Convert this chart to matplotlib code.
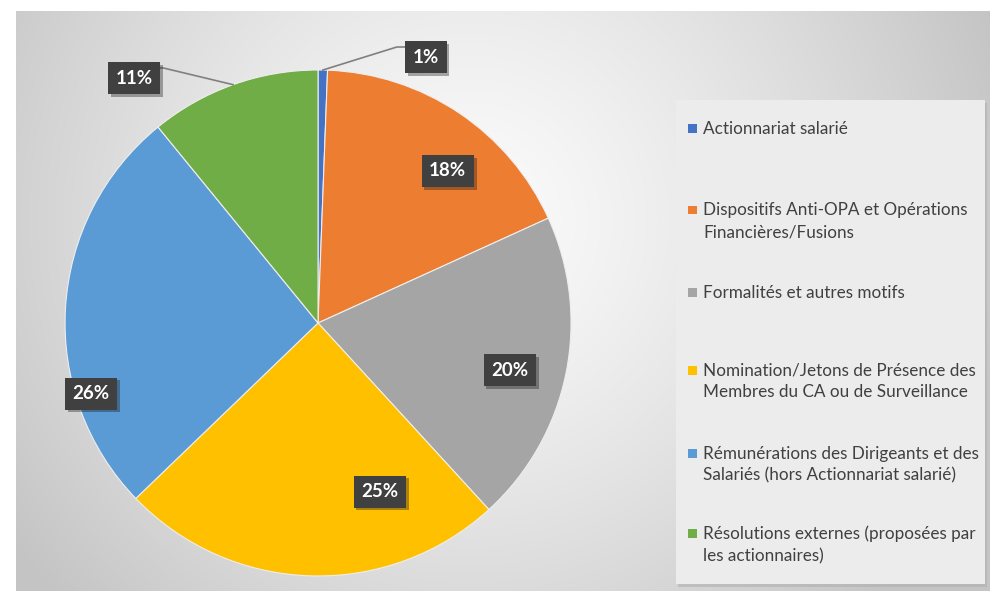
import numpy as np
import matplotlib.pyplot as plt
import matplotlib.patheffects as pe
from matplotlib.patches import Rectangle

# Data
categories = [
    'Actionnariat salarié',
    'Dispositifs Anti-OPA et Opérations\nFinancières/Fusions',
    'Formalités et autres motifs',
    'Nomination/Jetons de Présence des\nMembres du CA ou de Surveillance',
    'Rémunérations des Dirigeants et des\nSalariés (hors Actionnariat salarié)',
    'Résolutions externes (proposées par\nles actionnaires)',
]
shares = [0.6, 17.6, 20.0, 24.6, 26.3, 10.9]
colors = ['#4472C4', '#ED7D31', '#A5A5A5', '#FFC000', '#5B9BD5', '#70AD47']

# label placement: (radius, angle offset from wedge middle in degrees)
label_r = [1.134, 0.79, 0.78, 0.71, 0.94, 1.211]
label_dang = [-21.0, -6.6, -2.3, 21.9, 20.7, 17.3]
# legend rows: pixel y of the first text line of each entry
legend_rows = [128, 210, 292, 370, 453, 533]

plt.rcParams['font.family'] = ['Lato', 'DejaVu Sans']

W, H = 990, 591
fig = plt.figure(figsize=(W / 100, H / 100), dpi=100)
fig.patch.set_facecolor('white')

# radial gray gradient background
bg = fig.add_axes([16 / W, 0, 1 - 16 / W, 1 - 11 / H])
yy, xx = np.mgrid[0:H - 11, 16:W]
d = np.hypot(xx - 470, (yy + 11) - 220) / 560
shade = 0.985 - 0.215 * np.clip(d, 0, 1) ** 1.3
bg.imshow(np.dstack([shade] * 3), aspect='auto', extent=[0, 1, 0, 1], origin='upper')
bg.set_axis_off()

# legend panel
fig.patches.append(Rectangle((678 / W, 4 / H), 309 / W, 484 / H, transform=fig.transFigure,
                             facecolor='#b0b0b0', edgecolor='none', alpha=0.6, zorder=1))
fig.patches.append(Rectangle((676 / W, 7 / H), 309 / W, 484 / H, transform=fig.transFigure,
                             facecolor='#ececec', edgecolor='none', zorder=1))

# pie
ax = fig.add_axes([0.0657, 0.0254, 0.5111, 0.8562])
ax.set_zorder(2)
wedges, _ = ax.pie(shares, colors=colors, startangle=90, counterclock=False, radius=1,
                   wedgeprops=dict(edgecolor='#eeeeee', linewidth=0.8))
ax.set_xlim(-1, 1)
ax.set_ylim(-1, 1)
ax.set_aspect('equal')
ax.set_axis_off()

for i, w in enumerate(wedges):
    mid = (w.theta1 + w.theta2) / 2
    ang = np.deg2rad(mid + label_dang[i])
    lx, ly = label_r[i] * np.cos(ang), label_r[i] * np.sin(ang)
    t = ax.text(lx, ly, f'{shares[i]:.0f}%', ha='center', va='center', color='white',
                fontsize=13.5, fontweight='bold', zorder=5,
                bbox=dict(boxstyle='square,pad=0.4', facecolor='#404040', edgecolor='none'))
    t.get_bbox_patch().set_path_effects([pe.SimplePatchShadow(offset=(2, -2), alpha=0.35), pe.Normal()])
    if label_r[i] > 1:
        # leader line from the slice edge to the label
        sx, sy = np.cos(np.deg2rad(mid)), np.sin(np.deg2rad(mid))
        side = 1 if lx > 0 else -1
        ey = ly + 0.04
        ex = lx - side * 0.115
        ax.plot([sx, ex, ex + side * 0.04], [sy, ey, ey], color='#808080', lw=1.2,
                zorder=4, clip_on=False)

# legend drawn by hand to follow the spacing of the original
for lab, col, yrow in zip(categories, colors, legend_rows):
    yf = 1 - yrow / H
    fig.patches.append(Rectangle((688 / W, yf - 4.5 / H), 8.5 / W, 8.5 / H, transform=fig.transFigure,
                                 facecolor=col, edgecolor='none', zorder=3))
    fig.text(703 / W, yf + 7.5 / H, lab, ha='left', va='top', fontsize=12.3, color='#404040',
             linespacing=1.45, zorder=3)

fig.savefig('out.png', dpi=100)
